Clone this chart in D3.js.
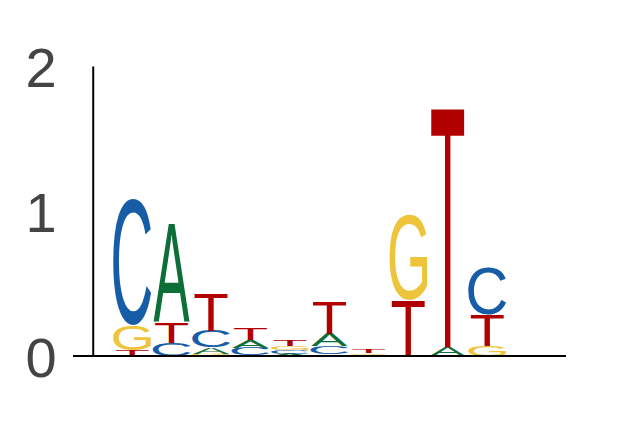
<!DOCTYPE html>
<html>
<head>
<meta charset="utf-8">
<script src="https://cdn.jsdelivr.net/npm/d3@7"></script>
<style>
    body { margin: 0; background: #fff; }
    svg { display: block; }
</style>
</head>
<body>
<svg></svg>
<script>

/* Data: information (bits) per letter at each position */
var positions = [1, 2, 3, 4, 5, 6, 7, 8, 9, 10]
var bitsA = [0,     0.68,  0.045, 0.055, 0.015, 0.09,  0.008, 0,     0.06,  0]
var bitsC = [0.87,  0.09,  0.115, 0.05,  0.025, 0.055, 0,     0,     0,     0.33]
var bitsG = [0.172, 0,     0.015, 0.005, 0.03,  0.01,  0.01,  0.587, 0,     0.07]
var bitsT = [0.041, 0.145, 0.26,  0.076, 0.045, 0.225, 0.025, 0.385, 1.657, 0.215]
var yTicks = [0, 1, 2]

var letters = ["A", "C", "G", "T"]
var bits = { A: bitsA, C: bitsC, G: bitsG, T: bitsT }

var width = 631
var height = 429
var fontFamily = "'Liberation Sans', Arial, sans-serif"

/* Color scale */
var color = d3.scaleOrdinal()
    .domain(letters)
    .range(["#0d6e37", "#175ca6", "#eec43a", "#b20000"])

/* horizontal share of a position each glyph fills */
var glyphWidth = d3.scaleOrdinal()
    .domain(letters)
    .range([0.92, 0.96, 0.95, 0.84])

/* SVG */
var svg = d3.select("svg")
    .attr("width", width)
    .attr("height", height)

/* Scales */
var xScale = d3.scaleLinear()
    .domain([-0.5, 12])
    .range([73, 566])

var yScale = d3.scaleLinear()
    .domain([0, 2])
    .range([356, 66])

var step = xScale(1) - xScale(0)

/* Ink box of each glyph, measured on a canvas */
var fontSize = 200
var ctx = document.createElement("canvas").getContext("2d")
ctx.font = fontSize + "px " + fontFamily
var ink = {}
letters.forEach(function (ch) {
    var m = ctx.measureText(ch)
    ink[ch] = {
        l: m.actualBoundingBoxLeft,
        r: m.actualBoundingBoxRight,
        a: m.actualBoundingBoxAscent,
        d: m.actualBoundingBoxDescent
    }
})

/* Stacks: smallest at the bottom */
var glyphs = []
positions.forEach(function (p, i) {
    var stack = letters
        .map(function (ch) { return { ch: ch, v: bits[ch][i] } })
        .filter(function (d) { return d.v > 0 })
        .sort(function (a, b) { return a.v - b.v })
    var base = 0
    stack.forEach(function (d) {
        glyphs.push({ ch: d.ch, pos: p, y0: base, y1: base + d.v })
        base += d.v
    })
})

/* Glyphs */
svg.append("g")
    .selectAll("text")
    .data(glyphs)
    .enter()
        .append("text")
            .text((d) => d.ch)
            .attr("font-family", fontFamily)
            .attr("font-size", fontSize)
            .attr("fill", (d) => color(d.ch))
            .attr("transform", function (d) {
                var m = ink[d.ch]
                var w = step * glyphWidth(d.ch)
                var x0 = xScale(d.pos) - w / 2
                var top = yScale(d.y1)
                var h = yScale(d.y0) - top
                var sx = w / (m.l + m.r)
                var sy = h / (m.a + m.d)
                return "translate(" + (x0 + m.l * sx) + "," + (top + m.a * sy) + ") scale(" + sx + "," + sy + ")"
            })

/* X baseline */
svg.append("line")
    .attr("x1", xScale(-0.5))
    .attr("x2", xScale(12))
    .attr("y1", yScale(0))
    .attr("y2", yScale(0))
    .attr("stroke", "#000")
    .attr("stroke-width", 2)

/* Y axis */
var yAxis = d3.axisLeft(yScale)
    .tickValues(yTicks)
    .tickFormat(d3.format("d"))
    .tickSize(0)
    .tickSizeOuter(0)
    .tickPadding(36)

var gy = svg.append("g")
    .attr("transform", "translate(" + xScale(0) + ",0)")
    .call(yAxis)

gy.select(".domain")
    .attr("stroke", "#000")
    .attr("stroke-width", 2)

gy.selectAll("text")
    .attr("font-family", fontFamily)
    .attr("font-size", 56)
    .attr("fill", "#444")
    .attr("dy", "0.36em")

</script>
</body>
</html>
